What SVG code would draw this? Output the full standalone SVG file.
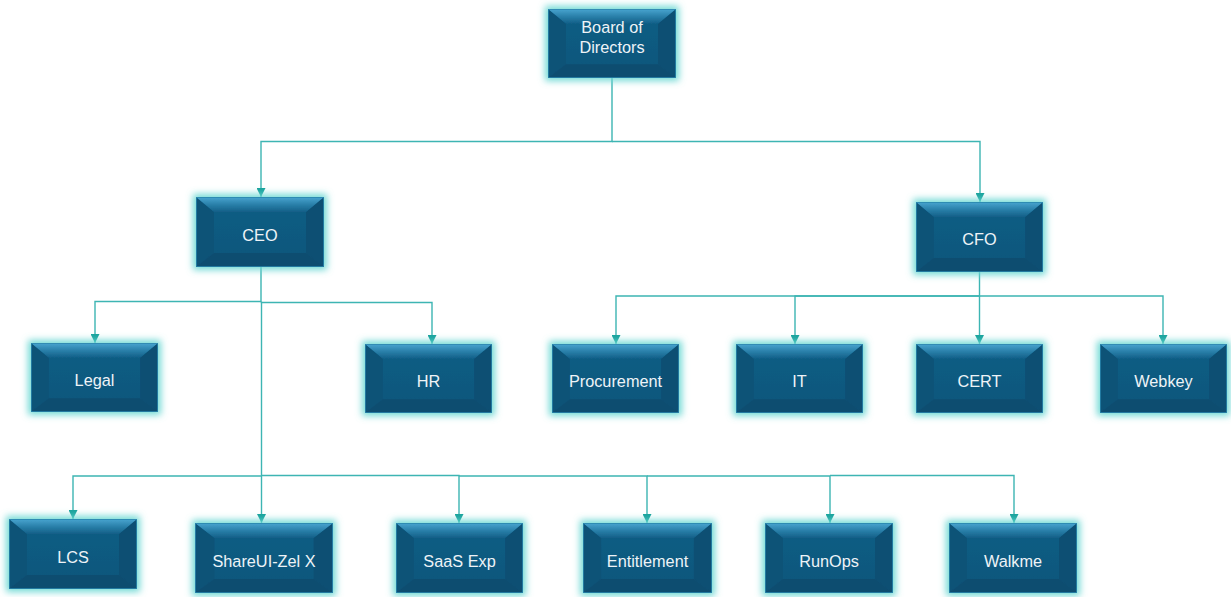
<svg xmlns="http://www.w3.org/2000/svg" xmlns:xlink="http://www.w3.org/1999/xlink" width="1231" height="597" viewBox="0 0 1231 597">
  <style>
    .lbl { font-family: "Liberation Sans", Arial, sans-serif; font-size: 16.3px; fill: #eef3f7; text-anchor: middle; }
    .conn { fill: none; stroke: #3db5b3; stroke-width: 1.4; marker-end: url(#arrow); }
    .box { filter: url(#glow); }
  </style>
  <defs>
    <linearGradient id="topG" x1="0" y1="0" x2="0" y2="1">
      <stop offset="0" stop-color="#49a5d0"/>
      <stop offset="0.5" stop-color="#2a80aa"/>
      <stop offset="1" stop-color="#125f87"/>
    </linearGradient>
    <linearGradient id="faceG" x1="0" y1="0" x2="0" y2="1">
      <stop offset="0" stop-color="#0e5e85"/>
      <stop offset="1" stop-color="#0b567b"/>
    </linearGradient>
    <filter id="glow" x="-25%" y="-40%" width="150%" height="180%">
      <feMorphology in="SourceAlpha" operator="dilate" radius="2.5" result="d"/>
      <feGaussianBlur in="d" stdDeviation="3.6" result="b"/>
      <feFlood flood-color="#6cd8d3" flood-opacity="0.95"/>
      <feComposite in2="b" operator="in" result="g"/>
      <feMerge><feMergeNode in="g"/><feMergeNode in="SourceGraphic"/></feMerge>
    </filter>
    <symbol id="bevel" viewBox="0 0 128 70" preserveAspectRatio="none">
      <rect x="0" y="0" width="128" height="70" fill="url(#faceG)"/>
      <polygon points="0,0 18,15 18,56 0,70" fill="#0a5277"/>
      <polygon points="128,0 110,15 110,56 128,70" fill="#0a4f73"/>
      <polygon points="0,70 18,56 110,56 128,70" fill="#094d70"/>
      <polygon points="0,0 128,0 110,15 18,15" fill="url(#topG)"/>
      <rect x="0.4" y="0.4" width="127.2" height="69.2" fill="none" stroke="#2a86ad" stroke-width="0.8"/>
    </symbol>
    <marker id="arrow" markerUnits="userSpaceOnUse" viewBox="0 0 10 10" refX="10" refY="5" markerWidth="9" markerHeight="9" orient="auto">
      <path d="M0,0 L10,5 L0,10 z" fill="#16a19b"/>
    </marker>
  </defs>
  <rect width="1231" height="597" fill="#ffffff"/>

  <g id="connectors">
    <path class="conn" d="M612,78 V141.5 H261 V197"/>
    <path class="conn" d="M612,141.5 H980 V202"/>
    <path class="conn" d="M261,267 V301.5 H95 V343"/>
    <path class="conn" d="M261.5,301.5 V302.5 H432 V344"/>
    <path class="conn" d="M261.5,302 V523"/>
    <path class="conn" d="M261.5,476 H73 V519"/>
    <path class="conn" d="M261.5,475.5 H459 V523"/>
    <path class="conn" d="M459,476 H647 V523"/>
    <path class="conn" d="M647,476 H830 V523"/>
    <path class="conn" d="M830,475.5 H1014 V523"/>
    <path class="conn" d="M979.5,272 V296 H616 V344"/>
    <path class="conn" d="M979.5,296 H795 V344"/>
    <path class="conn" d="M979.5,296 V344"/>
    <path class="conn" d="M979.5,296 H1163 V344"/>
  </g>

  <g id="board">
    <use class="box" xlink:href="#bevel" href="#bevel" x="548" y="9" width="128" height="69"/>
    <text class="lbl" x="612" y="33">Board of</text>
    <text class="lbl" x="612" y="53">Directors</text>
  </g>
  <g id="ceo">
    <use class="box" xlink:href="#bevel" href="#bevel" x="196" y="197" width="128" height="70"/>
    <text class="lbl" x="260" y="241">CEO</text>
  </g>
  <g id="cfo">
    <use class="box" xlink:href="#bevel" href="#bevel" x="916" y="202" width="127" height="70"/>
    <text class="lbl" x="979.5" y="245">CFO</text>
  </g>
  <g id="legal">
    <use class="box" xlink:href="#bevel" href="#bevel" x="31" y="343" width="127" height="69"/>
    <text class="lbl" x="94.5" y="386">Legal</text>
  </g>
  <g id="hr">
    <use class="box" xlink:href="#bevel" href="#bevel" x="365" y="344" width="127" height="69"/>
    <text class="lbl" x="428.5" y="387">HR</text>
  </g>
  <g id="procurement">
    <use class="box" xlink:href="#bevel" href="#bevel" x="552" y="344" width="127" height="69"/>
    <text class="lbl" x="615.5" y="387">Procurement</text>
  </g>
  <g id="it">
    <use class="box" xlink:href="#bevel" href="#bevel" x="736" y="344" width="127" height="69"/>
    <text class="lbl" x="799.5" y="387">IT</text>
  </g>
  <g id="cert">
    <use class="box" xlink:href="#bevel" href="#bevel" x="916" y="344" width="127" height="69"/>
    <text class="lbl" x="979.5" y="387">CERT</text>
  </g>
  <g id="webkey">
    <use class="box" xlink:href="#bevel" href="#bevel" x="1100" y="344" width="127" height="69"/>
    <text class="lbl" x="1163.5" y="387">Webkey</text>
  </g>
  <g id="lcs">
    <use class="box" xlink:href="#bevel" href="#bevel" x="9" y="519" width="128" height="70"/>
    <text class="lbl" x="73" y="563">LCS</text>
  </g>
  <g id="shareui">
    <use class="box" xlink:href="#bevel" href="#bevel" x="195" y="523" width="138" height="70"/>
    <text class="lbl" x="264" y="567">ShareUI-Zel X</text>
  </g>
  <g id="saas">
    <use class="box" xlink:href="#bevel" href="#bevel" x="396" y="523" width="127" height="70"/>
    <text class="lbl" x="459.5" y="567">SaaS Exp</text>
  </g>
  <g id="entitlement">
    <use class="box" xlink:href="#bevel" href="#bevel" x="583" y="523" width="129" height="70"/>
    <text class="lbl" x="647.5" y="567">Entitlement</text>
  </g>
  <g id="runops">
    <use class="box" xlink:href="#bevel" href="#bevel" x="765" y="523" width="128" height="70"/>
    <text class="lbl" x="829" y="567">RunOps</text>
  </g>
  <g id="walkme">
    <use class="box" xlink:href="#bevel" href="#bevel" x="949" y="523" width="128" height="70"/>
    <text class="lbl" x="1013" y="567">Walkme</text>
  </g>
</svg>
